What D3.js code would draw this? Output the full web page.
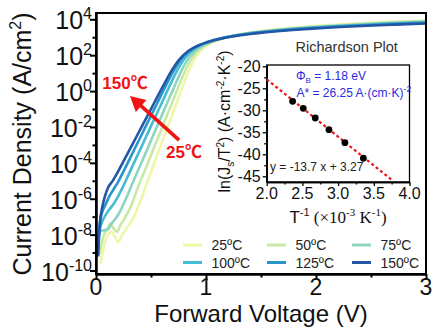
<!DOCTYPE html>
<html><head><meta charset="utf-8">
<script src="https://cdn.jsdelivr.net/npm/d3@7"></script>
<style>
body{margin:0;background:#fff}
svg{display:block}
text{font-family:"Liberation Sans",Arial,"Noto Sans CJK SC",sans-serif}
</style>
</head><body>
<svg id="c" width="436" height="331"></svg>
<script>
// ---------------- data ----------------
const seriesNames = ["25ºC","50ºC","75ºC","100ºC","125ºC","150ºC"];
const seriesColors = ["#eff6a6","#c8e9a6","#8dd5c0","#45bcd3","#2a95cb","#2456a6"];

// forward voltage (V) and log10 of current density (A/cm^2) for each temperature
const voltage25 = [0.04,0.05,0.07,0.1,0.14,0.17,0.2,0.25,0.3,0.35,0.4,0.479,0.540,0.601,0.662,0.723,0.784,0.849,0.888,0.913,0.946,0.992,1.063,1.177,1.367,1.694,2.263,2.596,3.015];
const logJ25    = [-9.62,-9.32,-8.71,-8.10,-7.85,-8.10,-8.41,-7.90,-7.45,-6.94,-6.18,-4.87,-3.85,-2.84,-1.83,-0.82,0.19,1.21,1.71,1.96,2.22,2.47,2.72,2.98,3.23,3.48,3.73,3.84,3.94];
const voltage50 = [0.03,0.05,0.08,0.1,0.13,0.16,0.19,0.22,0.27,0.32,0.37,0.482,0.548,0.614,0.680,0.746,0.817,0.860,0.887,0.923,0.974,1.051,1.176,1.385,1.744,2.369,2.737,3.197];
const logJ50    = [-9.12,-8.51,-7.90,-7.70,-7.39,-7.65,-7.85,-7.50,-6.99,-6.38,-5.55,-3.85,-2.84,-1.83,-0.82,0.19,1.21,1.71,1.96,2.22,2.47,2.72,2.98,3.23,3.48,3.73,3.84,3.94];
const voltage75 = [0.02,0.04,0.08,0.11,0.14,0.18,0.22,0.27,0.32,0.423,0.494,0.565,0.636,0.708,0.783,0.829,0.859,0.898,0.953,1.037,1.173,1.401,1.792,2.474,2.875,3.377];
const logJ75    = [-8.20,-7.80,-7.75,-7.70,-7.39,-7.09,-6.69,-6.03,-5.31,-3.85,-2.84,-1.83,-0.82,0.19,1.21,1.71,1.96,2.22,2.47,2.72,2.98,3.23,3.48,3.73,3.84,3.94];
const voltage100 = [0.02,0.03,0.05,0.08,0.11,0.15,0.2,0.25,0.3,0.357,0.433,0.509,0.586,0.662,0.743,0.793,0.825,0.867,0.926,1.017,1.164,1.411,1.835,2.573,3.007];
const logJ100    = [-8.51,-7.90,-7.39,-6.99,-6.69,-6.38,-5.88,-5.27,-4.60,-3.85,-2.84,-1.83,-0.82,0.19,1.21,1.71,1.96,2.22,2.47,2.72,2.98,3.23,3.48,3.73,3.84];
const voltage125 = [0.02,0.03,0.045,0.06,0.09,0.12,0.16,0.2,0.25,0.301,0.382,0.463,0.545,0.626,0.713,0.766,0.800,0.845,0.909,1.006,1.165,1.430,1.886,2.681,3.148];
const logJ125    = [-8.81,-7.70,-6.99,-6.69,-6.28,-5.88,-5.47,-5.07,-4.48,-3.85,-2.84,-1.83,-0.82,0.19,1.21,1.71,1.96,2.22,2.47,2.72,2.98,3.23,3.48,3.73,3.84];
const voltage150 = [0.02,0.03,0.04,0.05,0.06,0.08,0.11,0.15,0.2,0.255,0.342,0.429,0.515,0.602,0.694,0.751,0.788,0.836,0.905,1.011,1.183,1.472,1.968,2.834,3.342];
const logJ150    = [-9.22,-7.80,-7.09,-6.69,-6.38,-5.88,-5.37,-5.02,-4.49,-3.85,-2.84,-1.83,-0.82,0.19,1.21,1.71,1.96,2.22,2.47,2.72,2.98,3.23,3.48,3.73,3.84];

const xTicks = [0,1,2,3];
const xMinorTicks = [0.5,1.5,2.5];
const yTickExponents = [4,2,0,-2,-4,-6,-8,-10];
const yMinorExponents = [3,1,-1,-3,-5,-7,-9];
const xDomain = [0,3];
const yDomainExp = [-10.195,4.351];

// inset: Richardson plot
const invT = [2.363,2.512,2.680,2.872,3.095,3.354];      // 1000/T (K^-1)
const lnJsT2 = [-27.95,-29.55,-31.75,-34.4,-37.36,-40.9];
const fitX = [2.0,3.75];
const fitY = [-22.95,-45.8];
const insetXTicks = [2.0,2.5,3.0,3.5,4.0];
const insetXMinor = [2.25,2.75,3.25,3.75];
const insetYTicks = [-20,-25,-30,-35,-40,-45];
const insetYMinor = [-22.5,-27.5,-32.5,-37.5,-42.5];
const insetXDomain = [2,4];
const insetYDomain = [-46.3,-19.7];

// annotation anchors (data space)
const arrowTail = [0.755,-2.73];
const arrowTip  = [0.309,-0.275];
const label150 = [0.264,0.44];
const label25  = [0.80,-3.42];

// ---------------- drawing ----------------
const svg = d3.select("#c");
const P = {l:96, t:13, r:426, b:274};
const x = d3.scaleLinear().domain(xDomain).range([P.l,P.r]);
const y = d3.scaleLog().domain(yDomainExp.map(e=>Math.pow(10,e))).range([P.b,P.t]);

svg.append("defs").append("clipPath").attr("id","clip")
  .append("rect").attr("x",P.l).attr("y",P.t).attr("width",P.r-P.l).attr("height",P.b-P.t);

const allV = [voltage25,voltage50,voltage75,voltage100,voltage125,voltage150];
const allL = [logJ25,logJ50,logJ75,logJ100,logJ125,logJ150];
const line = d3.line().x(d=>x(d[0])).y(d=>y(d[1])).curve(d3.curveMonotoneX);
const gLines = svg.append("g").attr("clip-path","url(#clip)");
allV.forEach((vs,i)=>{
  const data = vs.map((v,k)=>[v,Math.pow(10,allL[i][k])]);
  gLines.append("path").datum(data).attr("d",line)
    .attr("fill","none").attr("stroke",seriesColors[i]).attr("stroke-width",2.6)
    .attr("stroke-linejoin","round");
});

// frame
svg.append("rect").attr("x",P.l).attr("y",P.t).attr("width",P.r-P.l).attr("height",P.b-P.t)
  .attr("fill","none").attr("stroke","#000").attr("stroke-width",2);

function styleAxis(g,w){
  g.select(".domain").attr("stroke-width",w);
  g.selectAll(".tick line").attr("stroke-width",w);
}
const gx = svg.append("g").attr("transform",`translate(0,${P.b})`)
  .call(d3.axisBottom(x).tickValues(xTicks).tickSize(6).tickSizeOuter(0).tickFormat(()=>""));
styleAxis(gx,2);
const gxm = svg.append("g").attr("transform",`translate(0,${P.b})`)
  .call(d3.axisBottom(x).tickValues(xMinorTicks).tickSize(3.5).tickSizeOuter(0).tickFormat(()=>""));
styleAxis(gxm,2);
const gy = svg.append("g").attr("transform",`translate(${P.l},0)`)
  .call(d3.axisLeft(y).tickValues(yTickExponents.map(e=>Math.pow(10,e))).tickSize(6).tickSizeOuter(0).tickFormat(()=>""));
styleAxis(gy,2);
const gym = svg.append("g").attr("transform",`translate(${P.l},0)`)
  .call(d3.axisLeft(y).tickValues(yMinorExponents.map(e=>Math.pow(10,e))).tickSize(3.5).tickSizeOuter(0).tickFormat(()=>""));
styleAxis(gym,2);

xTicks.forEach(v=>{
  svg.append("text").attr("x",x(v)).attr("y",295).attr("text-anchor","middle")
    .attr("font-size",23).attr("fill","#111").text(v);
});
yTickExponents.forEach(e=>{
  const t = svg.append("text").attr("x",92).attr("y",y(Math.pow(10,e))+10)
    .attr("text-anchor","end").attr("font-size",25).attr("fill","#111");
  t.append("tspan").text("10");
  t.append("tspan").attr("font-size",16).attr("dy",-10).text(String(e));
});

svg.append("text").attr("x",(P.l+P.r)/2).attr("y",322).attr("text-anchor","middle")
  .attr("font-size",24).attr("fill","#111").text("Forward Voltage (V)");
const yt = svg.append("text").attr("transform","translate(31,144) rotate(-90)")
  .attr("text-anchor","middle").attr("font-size",25).attr("fill","#111");
yt.append("tspan").text("Current Density (A/cm");
yt.append("tspan").attr("font-size",16).attr("dy",-10).text("2");
yt.append("tspan").attr("dy",10).text(")");

// arrow annotation
const red = "#f01414";
const tx = x(arrowTail[0]), ty = y(Math.pow(10,arrowTail[1]));
const hx = x(arrowTip[0]), hy = y(Math.pow(10,arrowTip[1]));
const dx = hx-tx, dy = hy-ty, len = Math.hypot(dx,dy), ux = dx/len, uy = dy/len;
const headL = 15, headW = 8;
const bx = hx-ux*headL, by = hy-uy*headL;
svg.append("line").attr("x1",tx).attr("y1",ty).attr("x2",bx+ux*2).attr("y2",by+uy*2)
  .attr("stroke",red).attr("stroke-width",3.6);
svg.append("polygon").attr("fill",red)
  .attr("points",[[hx,hy],[bx-uy*headW,by+ux*headW],[bx+uy*headW,by-ux*headW]].map(p=>p.join(",")).join(" "));
svg.append("text").attr("x",x(label150[0])).attr("y",y(Math.pow(10,label150[1]))+6)
  .attr("text-anchor","middle").attr("font-size",17).attr("font-weight","bold").attr("fill",red).text("150℃");
svg.append("text").attr("x",x(label25[0])).attr("y",y(Math.pow(10,label25[1]))+6)
  .attr("text-anchor","middle").attr("font-size",17).attr("font-weight","bold").attr("fill",red).text("25℃");

// legend
const legCols = [183,267,352];
const legRows = [245,262.5];
seriesNames.forEach((n,i)=>{
  const cx = legCols[i%3], cy = legRows[Math.floor(i/3)];
  svg.append("line").attr("x1",cx).attr("x2",cx+19).attr("y1",cy).attr("y2",cy)
    .attr("stroke",seriesColors[i]).attr("stroke-width",3);
  svg.append("text").attr("x",cx+28.5).attr("y",cy+5).attr("font-size",14).attr("fill","#222").text(n);
});

// ---------------- inset ----------------
const I = {l:266.7, r:409.5, t:65, b:182};
const ix = d3.scaleLinear().domain(insetXDomain).range([I.l,I.r]);
const iy = d3.scaleLinear().domain(insetYDomain).range([I.b,I.t]);
svg.append("rect").attr("x",I.l).attr("y",I.t).attr("width",I.r-I.l).attr("height",I.b-I.t)
  .attr("fill","#fff").attr("stroke","#000").attr("stroke-width",1.3);
const gix = svg.append("g").attr("transform",`translate(0,${I.b})`)
  .call(d3.axisBottom(ix).tickValues(insetXTicks).tickSize(4).tickSizeOuter(0).tickFormat(()=>""));
styleAxis(gix,1.3);
const gixm = svg.append("g").attr("transform",`translate(0,${I.b})`)
  .call(d3.axisBottom(ix).tickValues(insetXMinor).tickSize(2.5).tickSizeOuter(0).tickFormat(()=>""));
styleAxis(gixm,1.3);
const giy = svg.append("g").attr("transform",`translate(${I.l},0)`)
  .call(d3.axisLeft(iy).tickValues(insetYTicks).tickSize(4).tickSizeOuter(0).tickFormat(()=>""));
styleAxis(giy,1.3);
const giym = svg.append("g").attr("transform",`translate(${I.l},0)`)
  .call(d3.axisLeft(iy).tickValues(insetYMinor).tickSize(2.5).tickSizeOuter(0).tickFormat(()=>""));
styleAxis(giym,1.3);

insetXTicks.forEach(v=>{
  svg.append("text").attr("x",ix(v)).attr("y",I.b+17).attr("text-anchor","middle")
    .attr("font-size",16).attr("fill","#111").text(v.toFixed(1));
});
insetYTicks.forEach(v=>{
  svg.append("text").attr("x",I.l-6).attr("y",iy(v)+5.5).attr("text-anchor","end")
    .attr("font-size",16).attr("fill","#111").text(String(v));
});

// fit line & points
svg.append("line").attr("x1",ix(fitX[0])).attr("y1",iy(fitY[0])).attr("x2",ix(fitX[1])).attr("y2",iy(fitY[1]))
  .attr("stroke",red).attr("stroke-width",2.2).attr("stroke-dasharray","3,2.6");
svg.append("g").selectAll("circle").data(invT).join("circle")
  .attr("cx",d=>ix(d)).attr("cy",(d,i)=>iy(lnJsT2[i])).attr("r",3.4).attr("fill","#000");

// inset texts
svg.append("text").attr("x",346.7).attr("y",51.5).attr("text-anchor","middle")
  .attr("font-size",14.5).attr("fill","#333").text("Richardson Plot");
const blue = "#2a2ae0";
const phi = svg.append("text").attr("x",296).attr("y",79.5).attr("font-size",12).attr("fill",blue);
phi.append("tspan").text("Φ");
phi.append("tspan").attr("font-size",8).attr("dy",3).text("B");
phi.append("tspan").attr("dy",-3).text(" = 1.18 eV");
const ast = svg.append("text").attr("x",296.5).attr("y",97).attr("font-size",12).attr("fill",blue);
ast.append("tspan").text("A* = 26.25 A·(cm·K)");
ast.append("tspan").attr("font-size",8.5).attr("dy",-5).text("-2");
svg.append("text").attr("x",270).attr("y",170.5).attr("font-size",12).attr("fill","#222").text("y = -13.7 x + 3.27");

// inset axis titles
const ixt = svg.append("text").attr("x",338).attr("y",223).attr("text-anchor","middle")
  .attr("font-size",17).attr("fill","#111");
ixt.append("tspan").text("T");
ixt.append("tspan").attr("font-size",11).attr("dy",-7).text("-1");
ixt.append("tspan").attr("dy",7).attr("font-family","'Liberation Serif','Times New Roman',serif").text(" (×10");
ixt.append("tspan").attr("font-size",11).attr("dy",-7).attr("font-family","'Liberation Serif',serif").text("-3");
ixt.append("tspan").attr("dy",7).attr("font-family","'Liberation Serif',serif").text("  K");
ixt.append("tspan").attr("font-size",11).attr("dy",-7).attr("font-family","'Liberation Serif',serif").text("-1");
ixt.append("tspan").attr("dy",7).attr("font-family","'Liberation Serif',serif").text(")");

const iyt = svg.append("text").attr("transform","translate(230,121.5) rotate(-90)")
  .attr("text-anchor","middle").attr("font-size",16).attr("fill","#111");
iyt.append("tspan").text("ln(J");
iyt.append("tspan").attr("font-size",10).attr("dy",4).text("s");
iyt.append("tspan").attr("dy",-4).text("/T");
iyt.append("tspan").attr("font-size",10).attr("dy",-6).text("2");
iyt.append("tspan").attr("dy",6).text(") (A·cm");
iyt.append("tspan").attr("font-size",10).attr("dy",-6).text("-2");
iyt.append("tspan").attr("dy",6).text("·K");
iyt.append("tspan").attr("font-size",10).attr("dy",-6).text("-2");
iyt.append("tspan").attr("dy",6).text(")");
</script>
</body></html>
